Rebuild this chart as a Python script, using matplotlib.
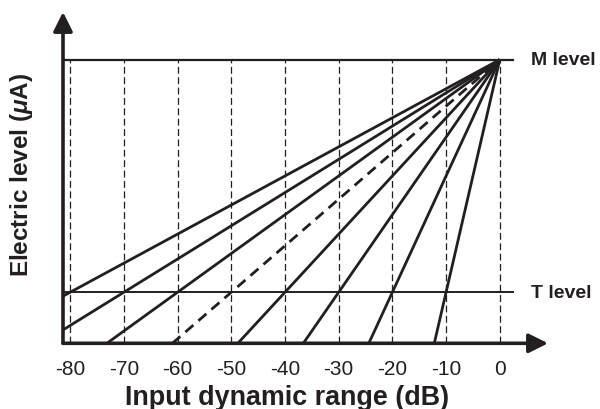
import matplotlib
matplotlib.use("Agg")
import matplotlib.pyplot as plt

plt.rcParams['font.family'] = ['Liberation Sans', 'DejaVu Sans']
plt.rcParams['mathtext.fontset'] = 'custom'
plt.rcParams['mathtext.rm'] = 'Liberation Sans'
plt.rcParams['mathtext.it'] = 'Liberation Sans:italic'
plt.rcParams['mathtext.bf'] = 'Liberation Sans:bold'
plt.rcParams['mathtext.bfit'] = 'Liberation Sans:italic:bold'

# Data
m_level = 100
t_level = 18
thresholds = [-80, -70, -60, -50, -40, -30, -20, -10]   # dB where each line hits T level
dashed_threshold = -50
grid_ticks = [-80, -70, -60, -50, -40, -30, -20, -10, 0]
tick_labels = ['-80', '-70', '-60', '-50', '-40', '-30', '-20', '-10', '0']

# Styles
ink = '#231f20'
x_min, x_max = -81.34, 8.98
y_min, y_max = 0, 116.8
level_end = 2.4

fig = plt.figure(figsize=(6, 4.1), dpi=100)
ax = fig.add_axes([63 / 600, 1 - 344.3 / 410, 485 / 600, 331.3 / 410])
ax.set_xlim(x_min, x_max)
ax.set_ylim(y_min, y_max)
for s in ax.spines.values():
    s.set_visible(False)

# Dashed grid lines
for g in grid_ticks:
    ax.plot([g, g], [0, m_level], color=ink, lw=0.9, linestyle=(0, (5.5, 2.8)))

# M and T levels
ax.plot([x_min, level_end], [m_level, m_level], color=ink, lw=1.6)
ax.plot([x_min, level_end], [t_level, t_level], color=ink, lw=1.4)

# Fan of lines from (0, M)
for thr in thresholds:
    x0 = thr * m_level / (m_level - t_level)
    xs = [x0, 0]
    ys = [m_level - (m_level - t_level) * x0 / thr, m_level]
    if thr == dashed_threshold:
        ax.plot(xs, ys, color=ink, lw=2.0, linestyle=(0, (3.8, 2.4)))
    else:
        ax.plot(xs, ys, color=ink, lw=2.0, solid_capstyle='butt')

# Axes with arrows
arrow = dict(arrowstyle='-|>,head_length=0.4,head_width=0.2', lw=2.6,
             color=ink, mutation_scale=29, shrinkA=0, shrinkB=0)
ax.annotate('', xy=(x_max, 0), xytext=(x_min, 0), arrowprops=arrow,
            annotation_clip=False)
ax.annotate('', xy=(x_min, y_max), xytext=(x_min, 0), arrowprops=arrow,
            annotation_clip=False)

ax.text(5.8, m_level, 'M level', fontsize=14, fontweight='bold', color=ink,
        ha='left', va='center')
ax.text(5.8, t_level, 'T level', fontsize=14, fontweight='bold', color=ink,
        ha='left', va='center')

ax.set_xticks(grid_ticks)
ax.set_xticklabels(tick_labels)
ax.set_yticks([])
ax.tick_params(axis='x', length=0, pad=11.5, labelsize=15, labelcolor=ink)

fig.text(287.5 / 600, 1 - 405 / 410, 'Input dynamic range (dB)', fontsize=19.4,
         fontweight='bold', color=ink, ha='center', va='baseline')
fig.text(22 / 600, 1 - 174.5 / 410, r'Electric level ($\boldsymbol{\mu}$A)',
         fontsize=17.5, fontweight='bold', color=ink, ha='center', va='center',
         rotation=90)

fig.savefig('out.png', dpi=100)
